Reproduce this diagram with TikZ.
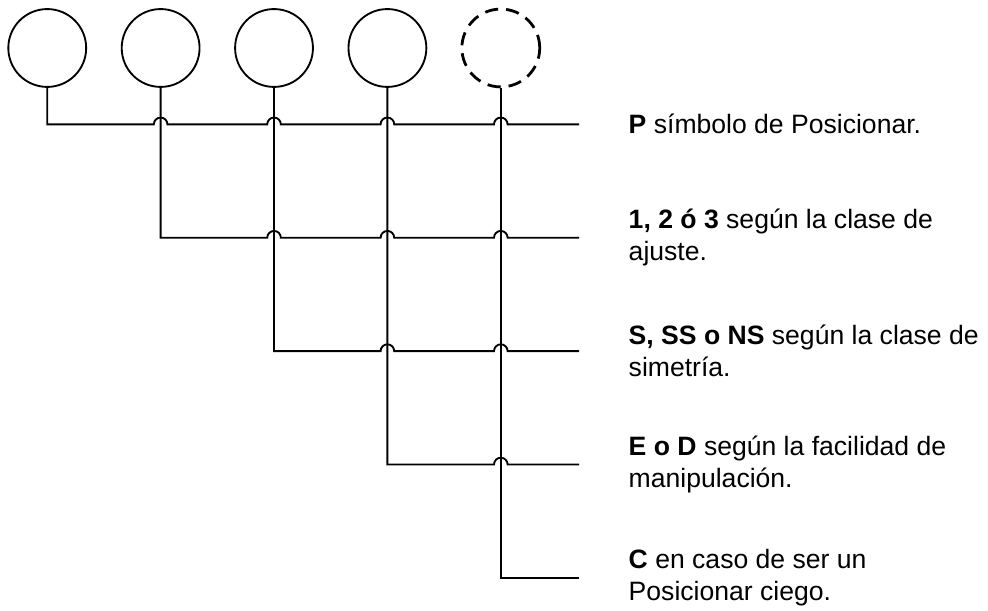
\documentclass[tikz,border=0pt]{standalone}
\usepackage{fontspec}
\setmainfont{Liberation Sans}
\usetikzlibrary{positioning,calc}

\begin{document}
\begin{tikzpicture}[
  line width=1.4pt,
  posn/.style={circle, minimum size=2.06cm, inner sep=0pt, draw=black},
  blind/.style={posn, dash pattern=on 10pt off 6pt, line width=2.1pt},
  note/.style={align=left, inner sep=0pt, font=\fontsize{20}{24}\selectfont}
]
\useasboundingbox (0,0) rectangle (26.14,16.14);

\foreach \i in {0,...,3} {
  \node[posn] (c\i) at (1.25+3*\i,14.87) {};
}
\node[blind] (c4) at (13.25,14.87) {};

\foreach \j in {0,...,4} {
  \coordinate (e\j) at (15.32,12.85-3*\j);
}

% rows, hopping over the stems on their right
\foreach \j/\hops in {0/{1,2,3,4},1/{2,3,4},2/{3,4},3/{4}} {
  \draw (c\j.south) \foreach \i in \hops {
    |- ($(c\i.south |- e\j)+(-0.18,0)$) arc[start angle=180, end angle=0, radius=0.18]
  } -- (e\j);
}
\draw (c4.south) |- (e4);

\node[note, right=1.29cm of e0] (t0) {\textbf{P} símbolo de Posicionar.};
\node[note, right=1.29cm of e1] (t1) {\textbf{1, 2 ó 3} según la clase de\\ajuste.};
\node[note, right=1.29cm of e2] (t2) {\textbf{S, SS o NS} según la clase de\\simetría.};
\node[note, right=1.29cm of e3] (t3) {\textbf{E o D} según la facilidad de\\manipulación.};
\node[note, right=1.29cm of e4] (t4) {\textbf{C} en caso de ser un\\Posicionar ciego.};
\end{tikzpicture}
\end{document}
